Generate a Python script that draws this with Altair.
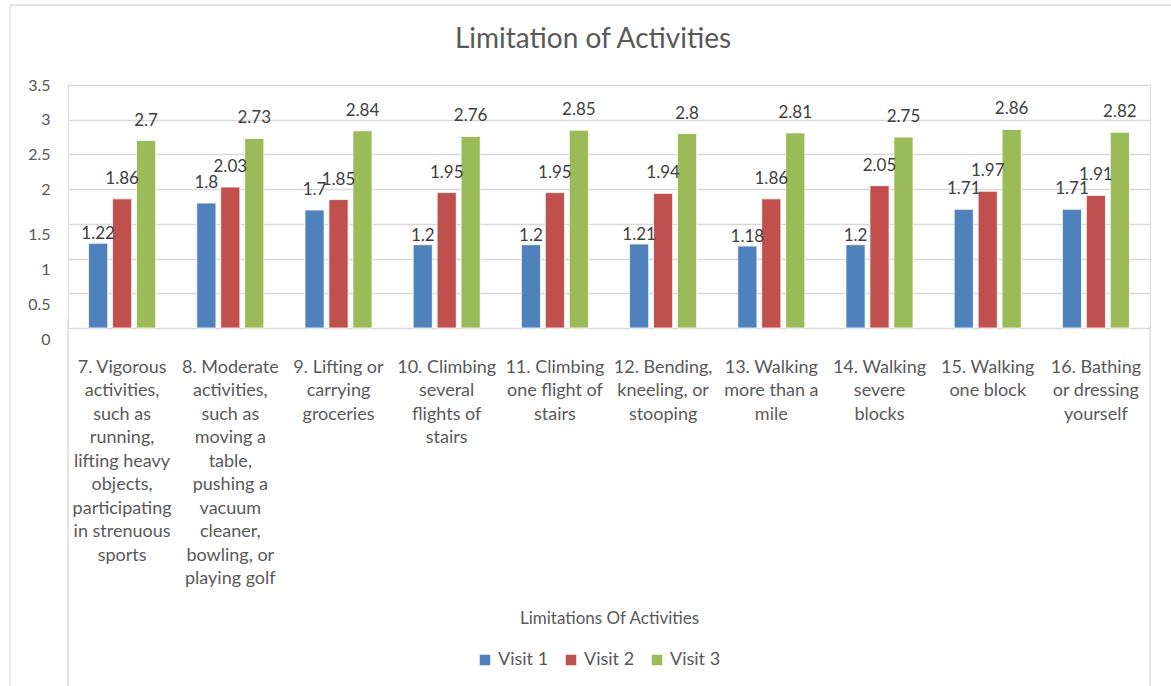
import altair as alt
import pandas as pd

# Activity categories, one list of wrapped label lines per category
activity_lines = [
    ["7. Vigorous", "activities,", "such as", "running,", "lifting heavy", "objects,",
     "participating", "in strenuous", "sports"],
    ["8. Moderate", "activities,", "such as", "moving a", "table,", "pushing a",
     "vacuum", "cleaner,", "bowling, or", "playing golf"],
    ["9. Lifting or", "carrying", "groceries"],
    ["10. Climbing", "several", "flights of", "stairs"],
    ["11. Climbing", "one flight of", "stairs"],
    ["12. Bending,", "kneeling, or", "stooping"],
    ["13. Walking", "more than a", "mile"],
    ["14. Walking", "severe", "blocks"],
    ["15. Walking", "one block"],
    ["16. Bathing", "or dressing", "yourself"],
]
visits = ["Visit 1", "Visit 2", "Visit 3"]
visit1 = [1.22, 1.8, 1.7, 1.2, 1.2, 1.21, 1.18, 1.2, 1.71, 1.71]
visit2 = [1.86, 2.03, 1.85, 1.95, 1.95, 1.94, 1.86, 2.05, 1.97, 1.91]
visit3 = [2.7, 2.73, 2.84, 2.76, 2.85, 2.8, 2.81, 2.75, 2.86, 2.82]
colors = ["#4F81BD", "#C0504D", "#9BBB59"]

activities = ["\n".join(lines) for lines in activity_lines]
rows = []
for series, vals in zip(visits, [visit1, visit2, visit3]):
    for act, v in zip(activities, vals):
        rows.append({"Activity": act, "Visit": series, "Score": v})
df = pd.DataFrame(rows)

TEXT = "#595959"
GRID = "#D9D9D9"
FONT = "Lato"
W, H = 1082, 243

x_enc = alt.X(
    "Activity:N", sort=activities,
    scale=alt.Scale(paddingInner=0.38, paddingOuter=0.19),
    axis=alt.Axis(
        title="Limitations Of Activities", labelAngle=0,
        labelExpr="split(datum.label, '\\n')",
        labelBaseline="top", labelLineHeight=23.5, labelPadding=30,
        labelFontSize=18, labelLimit=0, labelColor=TEXT, labelFont=FONT,
        domain=False, ticks=False, tickSize=0,
        titleFontSize=17, titleFontWeight="normal", titleColor=TEXT,
        titleFont=FONT, titleBaseline="middle", titleY=290,
    ),
)
xoff = alt.XOffset("Visit:N", sort=visits,
                   scale=alt.Scale(paddingInner=0.2, paddingOuter=0))
y_enc = alt.Y(
    "Score:Q",
    scale=alt.Scale(domain=[0, 3.5], nice=False),
    axis=alt.Axis(
        title=None, values=[0, 0.5, 1, 1.5, 2, 2.5, 3, 3.5],
        labelExpr="datum.value == 0 ? '0' : format(datum.value, '.1~f')",
        domain=False, ticks=False, tickSize=0, labelPadding=18,
        labelFontSize=16, labelColor=TEXT, labelFont=FONT,
        labelOffset={"condition": {"test": "datum.value < 1.75", "value": 11},
                     "value": 0},
        grid=True, gridColor=GRID, gridWidth=1.3,
    ),
)

base = alt.Chart(df).encode(x=x_enc, xOffset=xoff, y=y_enc)

bars = base.mark_bar(stroke="white", strokeWidth=0.8).encode(
    color=alt.Color(
        "Visit:N", sort=visits,
        scale=alt.Scale(domain=visits, range=colors),
        legend=alt.Legend(
            title=None, orient="none", direction="horizontal",
            legendX=408, legendY=566, padding=0, symbolType="square",
            symbolSize=110, symbolStrokeWidth=0, labelFontSize=18,
            labelColor=TEXT, labelFont=FONT, labelOffset=4, columnPadding=13,
        ),
    )
)

label_style = dict(fontSize=17, font=FONT, color="#404040", baseline="middle")
low_labels = base.mark_text(dy=-9, **label_style).encode(
    text=alt.Text("Score:Q")
).transform_filter("datum.Visit == 'Visit 1' && datum.Score < 1.5")
high_labels = base.mark_text(dy=-20, **label_style).encode(
    text=alt.Text("Score:Q")
).transform_filter("!(datum.Visit == 'Visit 1' && datum.Score < 1.5)")

frame = alt.Chart(pd.DataFrame({"k": [0]}))
# Chart title, drawn as text above the plot
title = frame.mark_text(
    text="Limitation of Activities", fontSize=28, font=FONT, color=TEXT,
    baseline="middle", align="center",
).encode(x=alt.value(525), y=alt.value(-45))
# Vertical rules framing the category label area
left_rule = frame.mark_rule(color=GRID, strokeWidth=1.3).encode(
    x=alt.value(0), y=alt.value(234), y2=alt.value(605))
right_rule = frame.mark_rule(color=GRID, strokeWidth=1.3).encode(
    x=alt.value(W), y=alt.value(240), y2=alt.value(605))
# Outer chart border (top and left edges)
top_border = frame.mark_rule(color="#E3E3E3", strokeWidth=2).encode(
    x=alt.value(-58), x2=alt.value(1110), y=alt.value(-80))
left_border = frame.mark_rule(color="#E3E3E3", strokeWidth=1.5).encode(
    x=alt.value(-58), y=alt.value(-80), y2=alt.value(605))

chart = alt.layer(
    bars, low_labels, high_labels, title,
    left_rule, right_rule, top_border, left_border
).properties(
    width=W, height=H,
    autosize=alt.AutoSizeParams(type="none"),
    padding={"left": 68, "top": 85, "right": 21, "bottom": 358},
).configure_view(stroke=None).configure(background="white")

chart.save("out.html", embed_options={"renderer": "svg", "actions": False})
